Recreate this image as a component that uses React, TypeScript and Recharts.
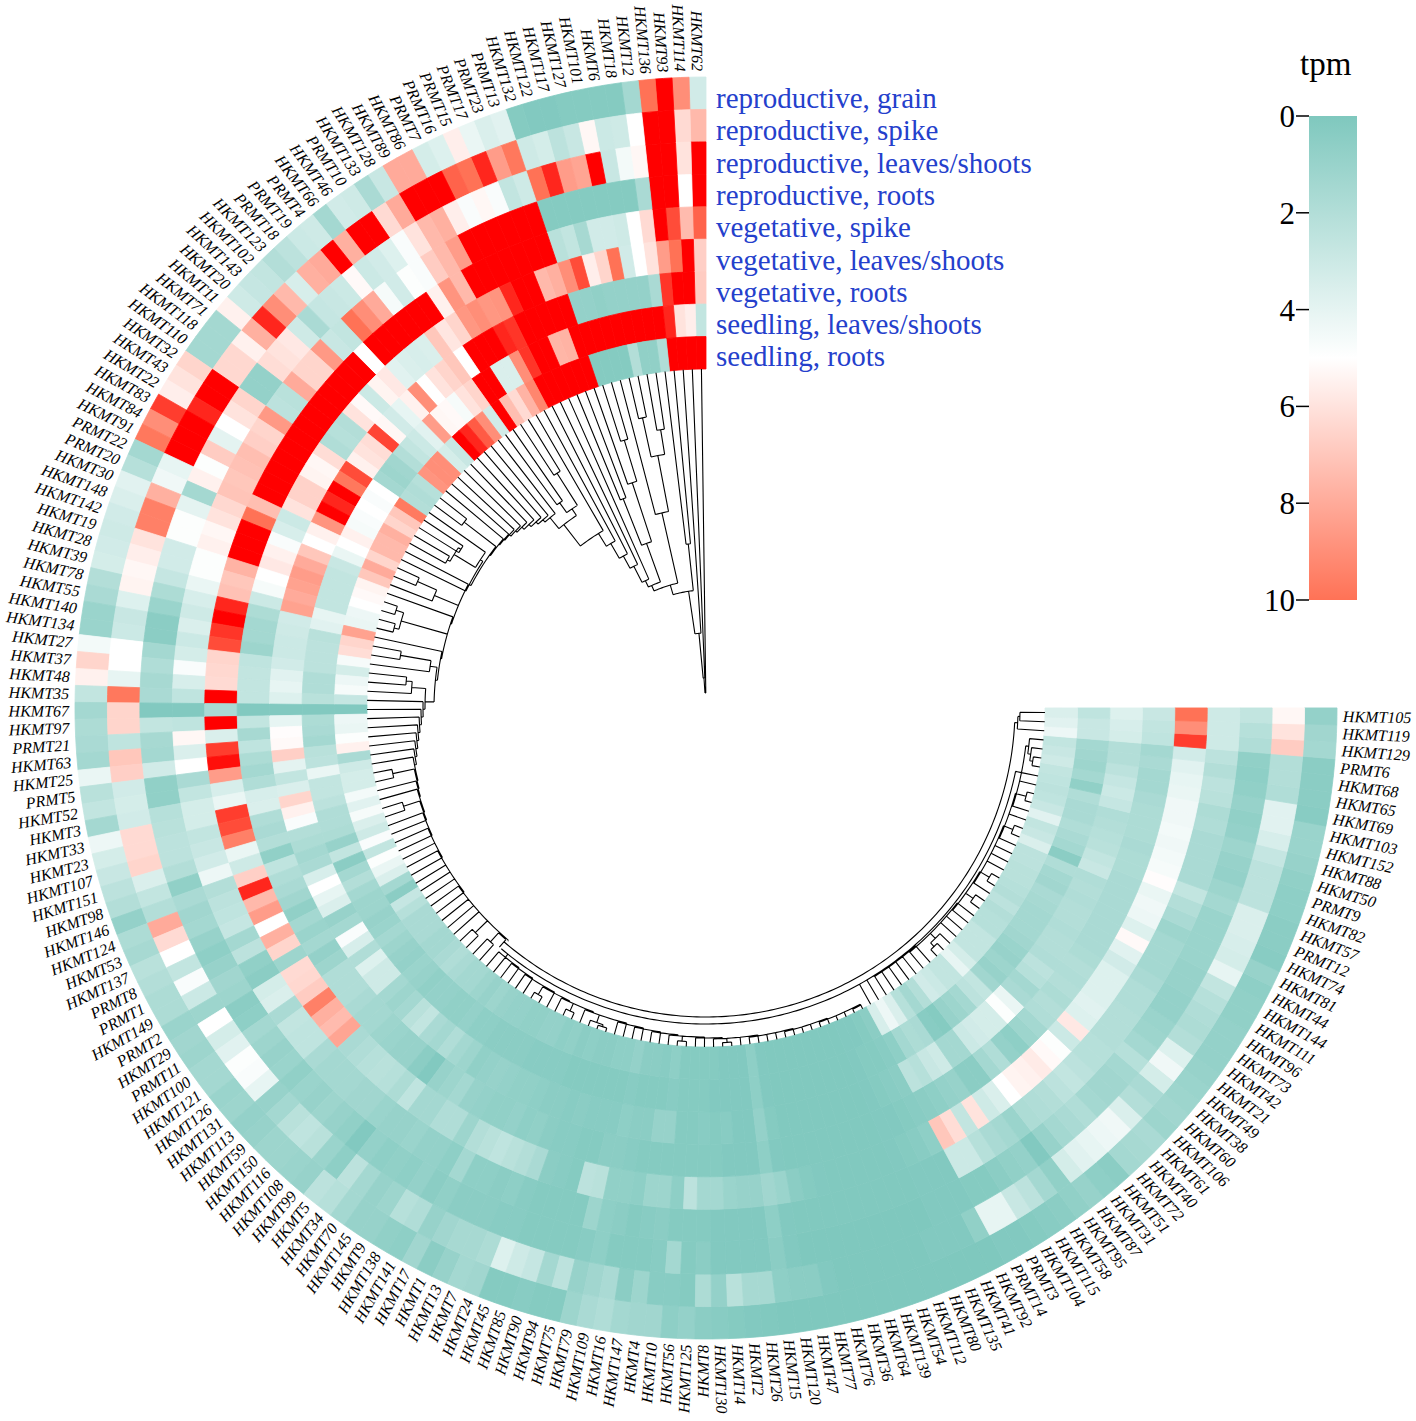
import { PieChart, Pie, Cell, LineChart, Line, XAxis, YAxis, BarChart, Bar } from "recharts";

const SERIF = "'Liberation Serif', 'Times New Roman', serif";
const WIDTH = 1416;
const HEIGHT = 1421;
const CX = 706;
const CY = 708;
const OUTER_R = 631;
const RING_W = 32.44;
const SWEEP = 270;

const leaves = [
  "HKMT62","HKMT114","HKMT93","HKMT136","HKMT12","HKMT18","HKMT6","HKMT101","HKMT127","HKMT117",
  "HKMT122","HKMT132","PRMT13","PRMT23","PRMT17","PRMT15","PRMT16","PRMT7","HKMT86","HKMT89",
  "HKMT128","HKMT133","PRMT10","HKMT46","HKMT66","PRMT4","PRMT19","PRMT18","HKMT123","HKMT102",
  "HKMT143","HKMT20","HKMT11","HKMT71","HKMT118","HKMT110","HKMT32","HKMT43","HKMT22","HKMT83",
  "HKMT84","HKMT91","PRMT22","PRMT20","HKMT30","HKMT148","HKMT142","HKMT19","HKMT28","HKMT39",
  "HKMT78","HKMT55","HKMT140","HKMT134","HKMT27","HKMT37","HKMT48","HKMT35","HKMT67","HKMT97",
  "PRMT21","HKMT63","HKMT25","PRMT5","HKMT52","HKMT3","HKMT33","HKMT23","HKMT107","HKMT151",
  "HKMT98","HKMT146","HKMT124","HKMT53","HKMT137","PRMT8","PRMT1","HKMT149","PRMT2","HKMT29",
  "PRMT11","HKMT100","HKMT121","HKMT126","HKMT131","HKMT113","HKMT59","HKMT150","HKMT116","HKMT108",
  "HKMT99","HKMT5","HKMT34","HKMT70","HKMT145","HKMT9","HKMT138","HKMT141","HKMT17","HKMT1",
  "HKMT13","HKMT7","HKMT24","HKMT45","HKMT85","HKMT90","HKMT94","HKMT75","HKMT79","HKMT109",
  "HKMT16","HKMT147","HKMT4","HKMT10","HKMT56","HKMT125","HKMT8","HKMT130","HKMT14","HKMT2",
  "HKMT26","HKMT15","HKMT120","HKMT47","HKMT77","HKMT76","HKMT36","HKMT64","HKMT139","HKMT54",
  "HKMT112","HKMT80","HKMT135","HKMT41","HKMT92","PRMT14","PRMT3","HKMT104","HKMT115","HKMT58",
  "HKMT95","HKMT87","HKMT31","HKMT51","HKMT72","HKMT40","HKMT61","HKMT106","HKMT60","HKMT38",
  "HKMT49","HKMT21","HKMT42","HKMT73","HKMT96","HKMT111","HKMT144","HKMT44","HKMT81","HKMT74",
  "PRMT12","HKMT57","HKMT82","PRMT9","HKMT50","HKMT88","HKMT152","HKMT103","HKMT69","HKMT65",
  "HKMT68","PRMT6","HKMT129","HKMT119","HKMT105",
];

const tissues = [
  "reproductive, grain","reproductive, spike","reproductive, leaves/shoots","reproductive, roots",
  "vegetative, spike","vegetative, leaves/shoots","vegetative, roots","seedling, leaves/shoots","seedling, roots",
];

// tpm, cells past the top of the colour bar are kept above 10
const repGrain = [
  3.5,9,12,10,2,1,1,1,1,.9, .9,1,4,3.8,4.3,5.6,3.9,3.6,8,8,
  3.2,2.2,3.4,3.5,2,3.4,3.3,2.8,2.5,3, 3.1,3.4,5.5,2,2,2,6.5,6,5.6,10.7,
  9,9.8,2,2.6,4,3.8,3.5,3.4,3.5,3.6, 2.5,2.2,1.7,1.7,4.6,6.5,5.5,3,2,2.3,
  2.2,2,4.3,2.7,3,2,4.4,3.6,3.2,2.8, 2.5,1.5,2.3,2.1,2.7,2.5,2.3,2.3,1.7,1.9,
  1.8,2,2,1.7,1.8,1.5,1.6,1.8,1.8,1.7, 1.6,2.8,2.6,2,1.6,1.6,1.4,1.3,1.9,1.2,
  1.6,2,1.9,1,1,1.1,1,1,1.8,2.2, 2.4,2,1.9,1.9,1.3,1.5,1.2,1.1,1,.9,
  .85,.8,.8,.8,.8,.8,.8,.8,.8,.8, .8,.8,.8,.8,.8,.9,.9,1,1.1,1.2,
  1.4,1.6,1.3,1.2,2,2.1,2.2,1.8,1.9,1.8, 1.7,1.6,1.5,1.5,1.5,1.4,1.4,1.3,1.6,1.1,
  1.2,1.2,1.3,1.3,1.4,1.6,1.7,1.7,1.1,1.2, 1.2,1.2,2,1.9,1.5,
];
const repSpike = [
  7.5,6.3,12,12,5,3.4,3.3,5.3,3.2,2.8, 3.6,3.4,9.8,8.5,11,10,10.2,12,11.7,11.7,
  8,6.3,11.6,11.8,7.8,12,8,7.8,3.7,7.5, 9,11,7.8,5.5,6.4,6.4,12,12,11,12,
  12,12,4.2,4.5,7.8,9.5,9.5,6,5.6,5.3, 5.4,3.9,3.2,3.3,5,5,4.2,9.8,6.5,6.5,
  2.9,7,6.7,3.5,3.6,3.5,6.3,6.3,6.5,3.8, 3,2.5,8,6.3,5,3,4.8,3.3,1.8,5,
  3.6,4,4.9,4.8,4.2,1.6,2,2.7,2.9,2.7, 1.7,1.3,2.8,2,1.6,1.8,2.6,2.4,1.6,1.9,
  2.1,2.1,2.3,3.9,3.4,3.1,2,2.8,1.6,1.9, 2.2,1.2,1.8,1.1,1.1,1,2.3,1.5,2.7,2.1,
  2.1,1.3,1.2,1.2,.9,.8,.8,.8,.8,.8, .8,.9,.9,.9,1.4,4.2,4.2,3.2,2.8,2,
  1.4,3.6,4,4.2,4.4,4.5,3.8,2.5,2.2,3.6, 4.5,3.9,2.5,2.3,2.4,2.6,3,4.2,3.6,3.7,
  3.8,3.8,2.8,2.8,2.8,3.1,3.7,4,4,2.4, 2.5,2.5,6.8,6,5.3,
];
const repLeaves = [
  12,6,12,11.5,5.3,4.6,3.2,12,8.2,8.5, 11,10,3.4,3,4.8,5.3,4.8,5.6,7.8,7.5,
  6,4.8,3.9,3.5,3.3,5.2,3.3,3.2,3.1,2.2, 3.4,5.8,6,6.2,1.5,1.5,6.5,6,5,4.1,
  6.8,4.9,5.5,2,4.1,4.9,4.9,3.5,3.5,3.1, 2.3,1.7,1.2,1.2,2,2.4,2.1,2.2,.9,3,
  2.1,2,3.5,1.4,1.4,2.6,2.7,2.8,2.8,2.5, 1.4,2.2,1.9,2,1.6,1.3,1.6,1.9,1.8,1.2,
  1.3,2,1.8,1.6,1.7,1.4,1.7,1.6,1.8,1.6, 1.4,.9,1.5,1.3,1.4,1.3,1.5,1.2,1.4,1.2,
  1.2,1.2,1.1,1.1,1,1,1,1,1.1,1.3, 1,1,1,1.1,2,1,1.2,.9,.9,.9,
  .9,1.2,.9,.8,.8,.8,.8,.8,.8,.8, .8,.8,.9,.9,.9,1,1,1.2,1.4,1.5,
  .9,1.6,2,2.2,2.4,2,1.9,1.9,2,2.6, 2,1.8,1.7,1.5,1.5,1.6,1.6,1.7,1.7,1.7,
  1.7,2,1.8,1.5,1.6,1.8,1.5,1.4,1.6,1.4, 1.3,1.4,2.4,2.6,3,
];
const repRoots = [
  11.5,5,12,12,2.2,1,1,1,1,1, 1,1,12,12,12,12,12,11.5,8.5,7.5,
  6.8,4.8,4.9,3.5,4.7,8,9,10,3,3.2, 8.6,6.5,6.5,8,2.7,2.8,8.6,6.5,6.7,7.3,
  7.2,7,7.1,6.4,6,5.3,5.5,4.9,4.9,4.3, 3.7,3.4,3.8,3.3,3.6,4.8,3.7,2.9,.9,2.9,
  5.3,3.8,5,2.2,3,3.6,3.6,3,3.2,3.5, 4.4,2.5,2.8,2.9,3.1,2,2.8,1.4,1.2,3.6,
  3.8,2.2,3,2.9,2.9,2.2,2,2,2,1.9, 1.9,1.7,1.6,1.6,1.7,1.5,1.5,1.3,2,1.3,
  1.3,1.2,1.3,1.1,1,1,1,1,1.8,1.3, 1.2,1,1.1,1.2,1,1,1,.9,.9,.9,
  .9,1.3,.9,.85,.85,.85,.85,.85,.85,.85, .85,.85,.9,.9,.9,3.3,3.3,2.6,2.2,2,
  1.7,2.3,2.4,2.5,2.8,3,2.8,2.6,2.6,2.5, 2.5,2.5,2.4,2.4,2.2,2,2,2,1.8,2.2,
  2.5,3,2.2,2.2,2.2,2.2,2.4,2.3,2.7,2.8, 2.5,2.8,3.4,3.4,3.4,
];
const vegSpike = [
  10.2,7.4,10.5,12,6.3,5,3.4,3.5,3.5,2.1, 3,2.7,12,12,12,12,12,12,12,7.5,
  8.8,5.5,12,12,12,12,12,12,5,12, 11.5,12,12,12,12,11.5,12,12,12,12,
  12,12,7.3,10,12,12,11.7,7.7,7,7.2, 11,11.5,10.8,10.5,6.5,6.4,6.3,12,2.2,12,
  3.8,10.7,11.3,8.5,3.7,4.3,10.7,10.5,9.5,4.3, 3.4,6.7,11,7.5,8.5,5,7.8,6.5,1.8,6.3,
  6.4,6.8,9.5,7.8,7.4,8.2,2.2,2.4,2.6,2.7, 2.6,2.3,2.9,2,2,2.4,2.4,1.8,2.5,2.7,
  2.9,2.7,2.5,2.2,1.2,1.1,1,2.8,2.7,1.4, 1.4,1.3,1.8,1.8,1.3,2.8,2,2,1.7,1.6,
  1.6,1.9,1.7,1.2,1,.9,.85,.85,.85,.85, .85,.9,1,1.1,1.3,7,6.2,3,6,3.4,
  3.8,5,5.4,5.5,5.7,5.2,4.9,3.3,5.8,3.9, 4,3.9,3.9,3.9,3.5,4,5.2,3.9,4.4,4.5,
  4.3,5.1,4.7,4.6,4.5,4.6,4.5,4.5,4.3,4.2, 4,3.5,10.7,9,10,
];
const vegLeaves = [
  6.7,12,10,8.5,6,5,3.5,10,6.5,5.6, 10.5,9,7.8,7.5,12,12,11,8.8,8.7,9,
  8.7,6.5,5.9,7,3.8,3.7,3.8,4,5.8,5.4, 3.3,5.2,6,2.5,2.6,2.4,6.2,5.3,5.4,6.6,
  6.6,6,3.3,3.7,4.8,5.5,5.8,5,4.7,3.3, 2.3,2,2,1.8,2.9,3,3,3,.9,3,
  2.1,2.9,2.3,2,2.4,3.7,3.8,2.4,2.2,2.5, 1.4,2.9,2.4,2.2,1.9,1.4,2,1.7,2,1.5,
  1.8,2.4,2.4,2.4,2.2,2,2,1.8,1.7,1.6, 1.6,1.2,.9,1.6,1.8,2,1.6,1.5,1.4,1.4,
  1.5,1.3,1.4,1.2,1.1,1.1,1,1,1.2,1.2, 1.1,1,1,1,1,1,1,1,.9,.9,
  .9,1.3,.9,.85,.85,.85,.85,.85,.85,.85, .85,.9,.9,1,1.1,1.2,1.3,1.5,1.6,1.2,
  1.2,2,2.4,1.5,1.3,1.8,2,2.4,2.5,2.3, 2.5,2.4,2.5,2.3,2.2,2.2,2.2,2.2,2.2,2.2,
  2.2,2.3,2.3,2.2,2.3,2.3,2.3,2.2,2,2, 2.2,2,2.9,3,3.2,
];
const vegRoots = [
  6.8,12,12,10.8,2.2,1.5,1.5,1.5,1.5,1.4, 1.5,1.5,12,12,12,12,12,10.8,11,12,
  12,11.5,5,7,6.5,6,5,9,5.5,4.2, 3.5,5.3,10.6,6.2,6,5.5,10.5,9.8,11.5,11,
  11.5,8.8,5.5,5,7,8,8.5,8.3,8,8.3, 3.5,3.4,3.3,3.3,3.5,4,4.2,3.9,.9,4.2,
  5.1,5.2,6.7,4.1,3,3.8,6.5,5.5,4.8,2.5, 2.3,2,2.2,3.7,5,4.2,3.8,1.6,2,4.8,
  3.7,2.4,3.9,3.4,3.4,2,1.8,2,2.7,3, 2.2,2,2.4,2,1.8,1.4,1.5,1.6,1.5,1.4,
  1.4,1.3,1.2,1.2,1.1,1.2,1.1,1.1,1.1,1.3, 1.2,1.2,1.6,1.6,1,1,1.1,1,1.1,.9,
  .9,1.5,1,.85,.85,.85,.85,.85,.85,.85, .85,.9,1,1.1,1.2,2.8,2.6,3.2,3.4,2,
  2,3.3,3.5,3.6,3.6,4.9,4.3,2.2,2,2.6, 2.8,2.4,2.5,2.5,2.4,2.5,2.5,2.4,2.5,2.4,
  3.2,3,2.7,2.6,2.5,2.4,3.1,3.3,3.1,2.8, 2.5,2.5,3.6,3.7,3.9,
];
const seedLeaves = [
  3,5.6,6,11,12,12,12,12,12,12, 12,12,12,7.7,7.6,12,12,10.8,9,3.8,
  3.8,12,12,6.5,6,4.7,5.2,5.3,8.5,4, 3.3,3,2.5,1.9,1.8,2,5,4.8,5,4.8,
  4.7,5.5,5,4.3,3.2,3,3,3,3,4.2, 4,2.7,2.8,2.8,2.8,2.4,2.4,2.7,.9,2.3,
  2.2,2,2.7,2.8,4.3,3,3,2.8,2.4,2.4, 2.3,1.6,3,1.2,2,2.5,2,1.8,1.8,1.6,
  1.7,2,1.8,1.6,1.5,1.7,1.6,1.4,1.5,1.5, 1.4,1.4,1.5,1.3,1.3,1.2,1.2,1.2,1.2,1.1,
  1.1,1.1,1.1,1,1,1,1,1,1,1.1, 1,1,1,1.1,1,1,1,.9,.9,.9,
  .9,1.3,.9,.85,.85,.85,.85,.85,.85,.85, .85,.9,1,1,1.1,1.3,2,2.3,2.2,1.1,
  1,1.6,1.8,2,2.8,3,1.9,1.6,1.8,1.6, 1.7,1.9,2,2,2,2.1,2.2,1.9,2,2.4,
  1.2,2,2.2,2.4,2.2,2.2,2.4,1.4,2,1.8, 1.9,2,3.2,3.2,2.9,
];
const seedRoots = [
  12,12,12,12,2.4,1.4,1.4,2.5,1,1, 1,1,12,12,12,12,12,12,9.3,7.7,
  6.3,7.3,12,3.5,9,10.3,11,11.5,3.2,3.6, 9,9,8.8,2.6,2.4,2.5,9.7,7,6.5,7.8,
  7.5,7.5,6.5,8,7,5.4,5.2,5,4.4,4.3, 8.3,6.5,6.2,4.7,3.6,4.4,4.7,3.1,.9,4.4,
  4.3,4.9,5.5,2.2,3.4,3.6,3.6,4.6,4,4.7, 3.8,3.4,4.8,3,4.9,4.3,3.8,2,1.2,3.1,
  2.6,2.2,2.2,2.2,2,2,2.2,2.4,2.2,2, 2,1.8,1.6,1.8,1.6,1.5,1.5,1.4,1.4,1.5,
  1.5,1.3,1.4,1.2,1.3,1.2,1.2,1.3,1.3,1.5, 1.2,1.2,1.1,1.3,1,1,1,1,.9,.9,
  .9,1.3,.9,.85,.85,.85,.85,.85,.85,.85, .85,.9,.9,1,1.2,3.7,4.4,3.8,2.6,2,
  2.5,3.5,3.3,3,3,4.2,3.6,3,3,3, 2.6,2.6,2.5,2.8,2.5,2.6,2.7,2.7,2.8,2.8,
  3.8,3.2,3,4,3.2,2.9,2.8,2.9,3,3.4, 3.2,3,4.4,4,3.8,
];
const rings = [repGrain, repSpike, repLeaves, repRoots, vegSpike, vegLeaves, vegRoots, seedLeaves, seedRoots];

// dendrogram: a clade is a leaf index or [merge radius, clade, clade]
type Clade = number | [number, Clade, Clade];
type Rung = [number, Clade];

const spine: Rung[] = [
  [15,0],[30,1],[75,2],[118,[165,3,4]],[128,[200,[257,[282,5,6],[297,7,8]],9]],
  [134,[175,[237,[280,10,11],12],[225,13,14]]],[141,15],[159,16],[173,17],[190,18],[205,19],
  [232,[240,[278,20,21],[252,22,23]]],[246,24],[249,25],[252,26],[255,27],[258,28],[260,29],[262,30],[263,31],[264,32],
  [265,[305,33,34]],[267,[270,35,[295,[292,36,37],[298,38,39]]]],[268,40],[268,41],[268,[294,[315,42,43],44]],[269,45],
  [269,[317,[325,46,47],[322,48,49]]],[270,50],[272,[279,[310,51,52],53]],[281,[295,[301,54,55],56]],[283,57],[285,58],
  [287,59],[289,60],[291,61],[293,62],[295,63],[297,64],[298,[320,65,66]],[299,67],[300,68],[301,[318,69,70]],[302,71],
  [302,72],[303,73],[303,74],[303,75],[304,76],[304,77],[304,78],[304,79],[304,80],[305,81],[305,82],[305,83],[305,84],[305,85],
  [305,[322,86,87]],[306,[318,88,89]],
];
const midComb: Rung[] = [
  [320,90],[320,91],[321,92],[321,93],[322,94],[322,95],[323,[332,96,97]],[323,98],[324,99],[324,[332,100,101]],[325,102],
  [325,[333,103,[335,104,105]]],[326,106],[326,107],[327,108],[327,109],[328,110],[328,111],[329,112],[329,[334,113,114]],
  [330,115],[330,116],[331,117],[331,[335,118,119]],[331,120],[332,121],[332,122],[332,123],[332,124],[333,125],[333,126],
  [333,127],[333,128],[334,129],[334,130],[334,131],[334,132],[335,133],
];
const midLast = 134;
const rightComb: Rung[] = [
  [322,[325,171,[328,170,[331,169,168]]]],[322,167],[322,166],[321,[332,164,165]],[321,163],[321,162],[320,[330,160,161]],
  [320,159],[320,158],[320,157],[320,156],[319,[330,154,155]],[319,153],[319,[328,151,152]],[318,150],[318,149],[318,148],
  [318,147],[318,[325,[330,144,145],146]],[317,143],[317,142],[317,141],[317,140],[317,139],[316,138],[316,137],[316,136],
];
const rightLast = 135;
const topClade: Clade = [312, 172, [314, 173, 174]];
const splitOuterR = 309;
const splitInnerR = 316;
const LEAF_R = 339;

type Pt = { x: number; y: number | null };
const linkPts: Pt[] = [];
const toXY = (r: number, pos: number) => {
  const t = (pos * SWEEP * Math.PI) / (leaves.length * 180);
  return { x: CX - r * Math.sin(t), y: CY - r * Math.cos(t) };
};
const pushBreak = () => {
  const last = linkPts[linkPts.length - 1];
  linkPts.push({ x: last.x, y: null });
};
const radial = (r0: number, r1: number, pos: number) => {
  linkPts.push(toXY(r0, pos), toXY(r1, pos));
  pushBreak();
};
const arc = (r: number, a: number, b: number) => {
  const steps = Math.max(2, Math.ceil(Math.abs(b - a) * 2));
  for (let s = 0; s <= steps; s++) linkPts.push(toXY(r, a + ((b - a) * s) / steps));
  pushBreak();
};

type Built = { pos: number; r: number; lo: number; hi: number };
function buildClade(c: Clade): Built {
  if (typeof c === "number") return { pos: c + 0.5, r: LEAF_R, lo: c + 0.5, hi: c + 0.5 };
  const [r, a, b] = c;
  const l = buildClade(a);
  const h = buildClade(b);
  arc(r, l.pos, h.pos);
  radial(r, l.r, l.pos);
  radial(r, h.r, h.pos);
  return { pos: (l.pos + h.pos) / 2, r, lo: Math.min(l.lo, h.lo), hi: Math.max(l.hi, h.hi) };
}

// walks a ladder and returns the position of its first node
function buildLadder(rungs: Rung[], step: number, end: { r: number; pos: number } | null) {
  const sides = rungs.map((rung) => buildClade(rung[1]));
  const nodePos = sides.map((s) => (step > 0 ? s.hi + step : s.lo + step));
  rungs.forEach((rung, k) => {
    const r = rung[0];
    const side = sides[k];
    radial(r, side.r, side.pos);
    const next = k < rungs.length - 1 ? { r: rungs[k + 1][0], pos: nodePos[k + 1] } : end;
    if (next) {
      arc(r, side.pos, next.pos);
      radial(r, next.r, next.pos);
    }
  });
  return { pos: nodePos[0], r: rungs[0][0] };
}

const splitPos = 90.2;
const midRoot = buildLadder(midComb, 1, { r: LEAF_R, pos: midLast + 0.5 });
const rightRoot = buildLadder(rightComb, -1, { r: LEAF_R, pos: rightLast + 0.5 });
const top = buildClade(topClade);
arc(splitOuterR, splitPos, top.pos);
radial(splitOuterR, top.r, top.pos);
radial(splitOuterR, splitInnerR, splitPos);
arc(splitInnerR, midRoot.pos - 1, rightRoot.pos);
radial(splitInnerR, rightRoot.r, rightRoot.pos);
radial(splitInnerR, midRoot.r, midRoot.pos);
buildLadder(spine, 1, { r: splitOuterR, pos: splitPos });

const TEAL = [127, 200, 190];
const WHITE = [255, 255, 255];
const SALMON = [255, 114, 86];
const RED = [255, 0, 0];
const TPM_FLOOR = 0.8; // darkest teal of the rings was read as about 0.8
const mix = (a: number[], b: number[], t: number) =>
  `rgb(${a.map((v, i) => Math.round(v + (b[i] - v) * t)).join(",")})`;
const tpmColor = (v: number) => {
  if (v <= 5) return mix(TEAL, WHITE, Math.max(0, v - TPM_FLOOR) / (5 - TPM_FLOOR));
  if (v <= 10) return mix(WHITE, SALMON, (v - 5) / 5);
  return mix(SALMON, RED, Math.min(1, (v - 10) / 1.5));
};

const renderLeafLabel = (p: any) => {
  const theta = p.midAngle - 90;
  const t = (theta * Math.PI) / 180;
  const R = 637;
  const x = p.cx - R * Math.sin(t);
  const y = p.cy - R * Math.cos(t);
  const left = theta < 180;
  const rot = left ? 90 - theta : 270 - theta;
  return (
    <text
      key={p.index}
      x={x}
      y={y}
      transform={`rotate(${rot} ${x} ${y})`}
      textAnchor={left ? "end" : "start"}
      dominantBaseline="central"
      fontFamily={SERIF}
      fontStyle="italic"
      fontSize={16}
      fill="#000"
    >
      {leaves[p.index]}
    </text>
  );
};

const colorTicks = [0, 2, 4, 6, 8, 10];
const colorBar = [{ name: "tpm", top: 10 }];

export default function App() {
  return (
    <div style={{ position: "absolute", left: 0, top: 0, width: WIDTH, height: HEIGHT, background: "#fff", overflow: "hidden" }}>
      <div style={{ position: "absolute", left: 0, top: 0 }}>
        <PieChart width={WIDTH} height={HEIGHT} margin={{ top: 0, right: 0, bottom: 0, left: 0 }}>
          {rings.map((ring, k) => (
            <Pie
              key={tissues[k]}
              data={ring.map((tpm, i) => ({ name: leaves[i], slot: 1, tpm }))}
              dataKey="slot"
              cx={CX}
              cy={CY}
              startAngle={90}
              endAngle={90 + SWEEP}
              innerRadius={OUTER_R - RING_W * (k + 1)}
              outerRadius={OUTER_R - RING_W * k}
              paddingAngle={0}
              isAnimationActive={false}
              labelLine={false}
              label={k === 0 ? renderLeafLabel : false}
            >
              {ring.map((tpm, i) => (
                <Cell key={i} fill={tpmColor(tpm)} stroke={tpmColor(tpm)} strokeWidth={0.8} />
              ))}
            </Pie>
          ))}
        </PieChart>
      </div>

      <div style={{ position: "absolute", left: 0, top: 0 }}>
        <LineChart width={WIDTH} height={HEIGHT} data={linkPts} margin={{ top: 0, right: 0, bottom: 0, left: 0 }}>
          <XAxis dataKey="x" type="number" domain={[0, WIDTH]} hide />
          <YAxis type="number" domain={[0, HEIGHT]} reversed hide />
          <Line dataKey="y" stroke="#000" strokeWidth={1.1} dot={false} activeDot={false} isAnimationActive={false} connectNulls={false} />
        </LineChart>
      </div>

      {tissues.map((name, i) => (
        <div
          key={name}
          style={{
            position: "absolute",
            left: 716,
            top: 82 + i * 32.3,
            fontFamily: SERIF,
            fontSize: 29,
            lineHeight: "32px",
            color: "#2440cc",
            whiteSpace: "nowrap",
          }}
        >
          {name}
        </div>
      ))}

      <div style={{ position: "absolute", left: 1300, top: 46, fontFamily: SERIF, fontSize: 33, lineHeight: "36px", color: "#000" }}>tpm</div>
      <div style={{ position: "absolute", left: 1200, top: 90 }}>
        <BarChart width={157} height={536} data={colorBar} margin={{ top: 26, right: 0, bottom: 26, left: 0 }} barCategoryGap={0}>
          <defs>
            <linearGradient id="tpmGradient" x1="0" y1="0" x2="0" y2="1">
              <stop offset="0%" stopColor="#7fc8be" />
              <stop offset="50%" stopColor="#ffffff" />
              <stop offset="100%" stopColor="#ff7256" />
            </linearGradient>
          </defs>
          <XAxis dataKey="name" hide />
          <YAxis
            type="number"
            domain={[0, 10]}
            ticks={colorTicks}
            reversed
            width={109}
            axisLine={false}
            tickLine={{ stroke: "#000", strokeWidth: 1.5 }}
            tickSize={13}
            tickMargin={1}
            interval={0}
            tick={{ fontFamily: SERIF, fontSize: 31, fill: "#000" }}
          />
          <Bar dataKey="top" fill="url(#tpmGradient)" isAnimationActive={false} />
        </BarChart>
      </div>
    </div>
  );
}
